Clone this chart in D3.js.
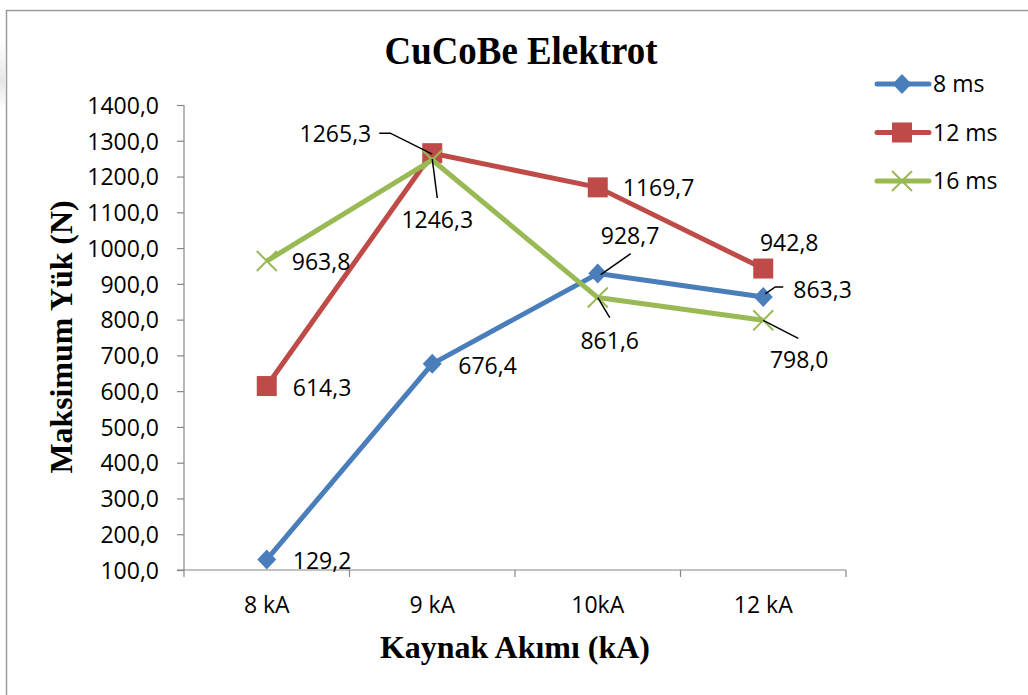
<!DOCTYPE html>
<html>
<head>
<meta charset="utf-8">
<script src="https://cdn.jsdelivr.net/npm/d3@7/dist/d3.min.js"></script>
<style>
  html, body { margin: 0; padding: 0; background: #fff; }
  svg { display: block; }
</style>
</head>
<body>
<svg id="chart" width="1028" height="695"></svg>
<script>
// Welding current categories and peak load per weld time (N)
const categories = ["8 kA", "9 kA", "10kA", "12 kA"];
const seriesNames = ["8 ms", "12 ms", "16 ms"];
const values8ms  = [129.2, 676.4, 928.7, 863.3];
const values12ms = [614.3, 1265.3, 1169.7, 942.8];
const values16ms = [963.8, 1246.3, 861.6, 798.0];
const yTicks = [100, 200, 300, 400, 500, 600, 700, 800, 900, 1000, 1100, 1200, 1300, 1400];

const seriesValues = [values8ms, values12ms, values16ms];
const colors = ["#4A7EBB", "#BE4B48", "#98B954"];
const markers = ["diamond", "square", "cross"];

// Label placement per point: offset from the point, text anchor, optional leader polyline
const labelPlacement = [
  [
    { dx: 26, dy: 9, anchor: "start" },
    { dx: 26, dy: 10, anchor: "start" },
    { dx: 3, dy: -30, anchor: "start", leader: [[3, 1], [33, -20]] },
    { dx: 30, dy: 1, anchor: "start", leader: [[2, -3], [12, -10], [20, -10]] }
  ],
  [
    { dx: 26, dy: 10, anchor: "start" },
    { dx: -61, dy: -11, anchor: "end", leader: [[0, 1], [-42, -20], [-53, -20]] },
    { dx: 25, dy: 9, anchor: "start" },
    { dx: 26, dy: -18, anchor: "middle" }
  ],
  [
    { dx: 25, dy: 9, anchor: "start" },
    { dx: 5, dy: 68, anchor: "middle", leader: [[0, -1], [5, 38]] },
    { dx: 12, dy: 51, anchor: "middle", leader: [[0, 0], [12, 20]] },
    { dx: 36, dy: 48, anchor: "middle", leader: [[0, 0], [35, 18]] }
  ]
];

const svg = d3.select("#chart");
const sansFont = "'Open Sans', 'Noto Sans', sans-serif";
const serifFont = "'Liberation Serif', 'DejaVu Serif', serif";
const fmt = v => d3.format(".1f")(v).replace(".", ",");

// Frame with faint shading on the left edge
const defs = svg.append("defs");
const grad = defs.append("linearGradient").attr("id", "edgeShade").attr("x1", 0).attr("x2", 0).attr("y1", 0).attr("y2", 1);
grad.append("stop").attr("offset", "0%").attr("stop-color", "#fff");
grad.append("stop").attr("offset", "60%").attr("stop-color", "#e6e6e6");
grad.append("stop").attr("offset", "100%").attr("stop-color", "#fff");
svg.append("rect").attr("x", 0).attr("y", 40).attr("width", 5).attr("height", 70).attr("fill", "url(#edgeShade)");
svg.append("path")
  .attr("d", "M6.5,695 L6.5,10.5 L1028,10.5")
  .attr("fill", "none").attr("stroke", "#9a9a9a").attr("stroke-width", 1.5);

// Scales
const x = d3.scaleBand().domain(categories).range([184, 846]).padding(0);
const y = d3.scaleLinear().domain([100, 1400]).range([570, 105]);
const cx = c => x(c) + x.bandwidth() / 2;

// Y axis
const yAxis = svg.append("g")
  .attr("transform", "translate(184,0)")
  .call(d3.axisLeft(y).tickValues(yTicks).tickSize(7).tickPadding(18).tickFormat(fmt));
yAxis.selectAll("path, line").attr("stroke", "#868686").attr("stroke-width", 1.2);
yAxis.select(".domain").attr("d", `M0,${y(1400)}V${y(100)}`);
yAxis.selectAll("text")
  .attr("font-family", sansFont).attr("font-size", 23).attr("fill", "#000").attr("dy", "0.36em");

// X axis: category labels centred in bands, ticks on band boundaries
const xAxis = svg.append("g")
  .attr("transform", `translate(0,${y(100)})`)
  .call(d3.axisBottom(x).tickSize(0).tickPadding(0));
xAxis.select(".domain").attr("stroke", "#868686").attr("stroke-width", 1.2)
  .attr("d", `M${x.range()[0] - 7},0H${x.range()[1]}`);
xAxis.selectAll("text")
  .attr("font-family", sansFont).attr("font-size", 23).attr("fill", "#000")
  .attr("dy", 0).attr("y", 43);
const boundaries = categories.map(c => x(c)).concat([x.range()[1]]);
xAxis.selectAll("line.bound").data(boundaries).enter().append("line")
  .attr("class", "bound")
  .attr("x1", d => d).attr("x2", d => d).attr("y1", 0).attr("y2", 7)
  .attr("stroke", "#868686").attr("stroke-width", 1.2);

// Titles
svg.append("text")
  .attr("x", 521).attr("y", 64).attr("text-anchor", "middle")
  .attr("font-family", serifFont).attr("font-weight", "bold").attr("font-size", 39)
  .attr("textLength", 273).attr("lengthAdjust", "spacingAndGlyphs")
  .text("CuCoBe Elektrot");
svg.append("text")
  .attr("transform", "translate(72,337) rotate(-90)").attr("text-anchor", "middle")
  .attr("font-family", serifFont).attr("font-weight", "bold").attr("font-size", 31)
  .attr("textLength", 273).attr("lengthAdjust", "spacingAndGlyphs")
  .text("Maksimum Yük (N)");
svg.append("text")
  .attr("x", 515).attr("y", 658).attr("text-anchor", "middle")
  .attr("font-family", serifFont).attr("font-weight", "bold").attr("font-size", 32)
  .attr("textLength", 270).attr("lengthAdjust", "spacingAndGlyphs")
  .text("Kaynak Akımı (kA)");

// Marker drawing
function drawMarker(g, type, color) {
  if (type === "diamond") {
    g.append("path").attr("d", "M0,-10L9.5,0L0,10L-9.5,0Z").attr("fill", color);
  } else if (type === "square") {
    g.append("rect").attr("x", -10).attr("y", -10).attr("width", 20).attr("height", 20).attr("fill", color);
  } else {
    g.append("path").attr("d", "M-10,-10L10,10M-10,10L10,-10")
      .attr("stroke", color).attr("stroke-width", 2).attr("fill", "none");
  }
}

const line = d3.line().x(d => cx(d.c)).y(d => y(d.v));

seriesValues.forEach((vals, si) => {
  const pts = vals.map((v, i) => ({ c: categories[i], v }));
  const g = svg.append("g");
  g.append("path").datum(pts).attr("d", line)
    .attr("fill", "none").attr("stroke", colors[si]).attr("stroke-width", 5)
    .attr("stroke-linejoin", "round");
  pts.forEach(p => {
    drawMarker(g.append("g").attr("transform", `translate(${cx(p.c)},${y(p.v)})`), markers[si], colors[si]);
  });
});

// Data labels with leader lines
seriesValues.forEach((vals, si) => {
  vals.forEach((v, i) => {
    const px = cx(categories[i]), py = y(v);
    const lp = labelPlacement[si][i];
    if (lp.leader) {
      svg.append("polyline")
        .attr("points", lp.leader.map(([dx, dy]) => `${px + dx},${py + dy}`).join(" "))
        .attr("fill", "none").attr("stroke", "#000").attr("stroke-width", 1.5);
    }
    svg.append("text")
      .attr("x", px + lp.dx).attr("y", py + lp.dy).attr("text-anchor", lp.anchor)
      .attr("font-family", sansFont).attr("font-size", 23).attr("fill", "#000")
      .text(fmt(v));
  });
});

// Legend
const legend = svg.append("g");
seriesNames.forEach((name, si) => {
  const ly = 84 + si * 48.5;
  legend.append("line").attr("x1", 877).attr("x2", 929).attr("y1", ly).attr("y2", ly)
    .attr("stroke", colors[si]).attr("stroke-width", 5).attr("stroke-linecap", "round");
  drawMarker(legend.append("g").attr("transform", `translate(902,${ly})`), markers[si], colors[si]);
  legend.append("text").attr("x", 933).attr("y", ly + 8)
    .attr("font-family", sansFont).attr("font-size", 23).attr("fill", "#000").text(name);
});
</script>
</body>
</html>
